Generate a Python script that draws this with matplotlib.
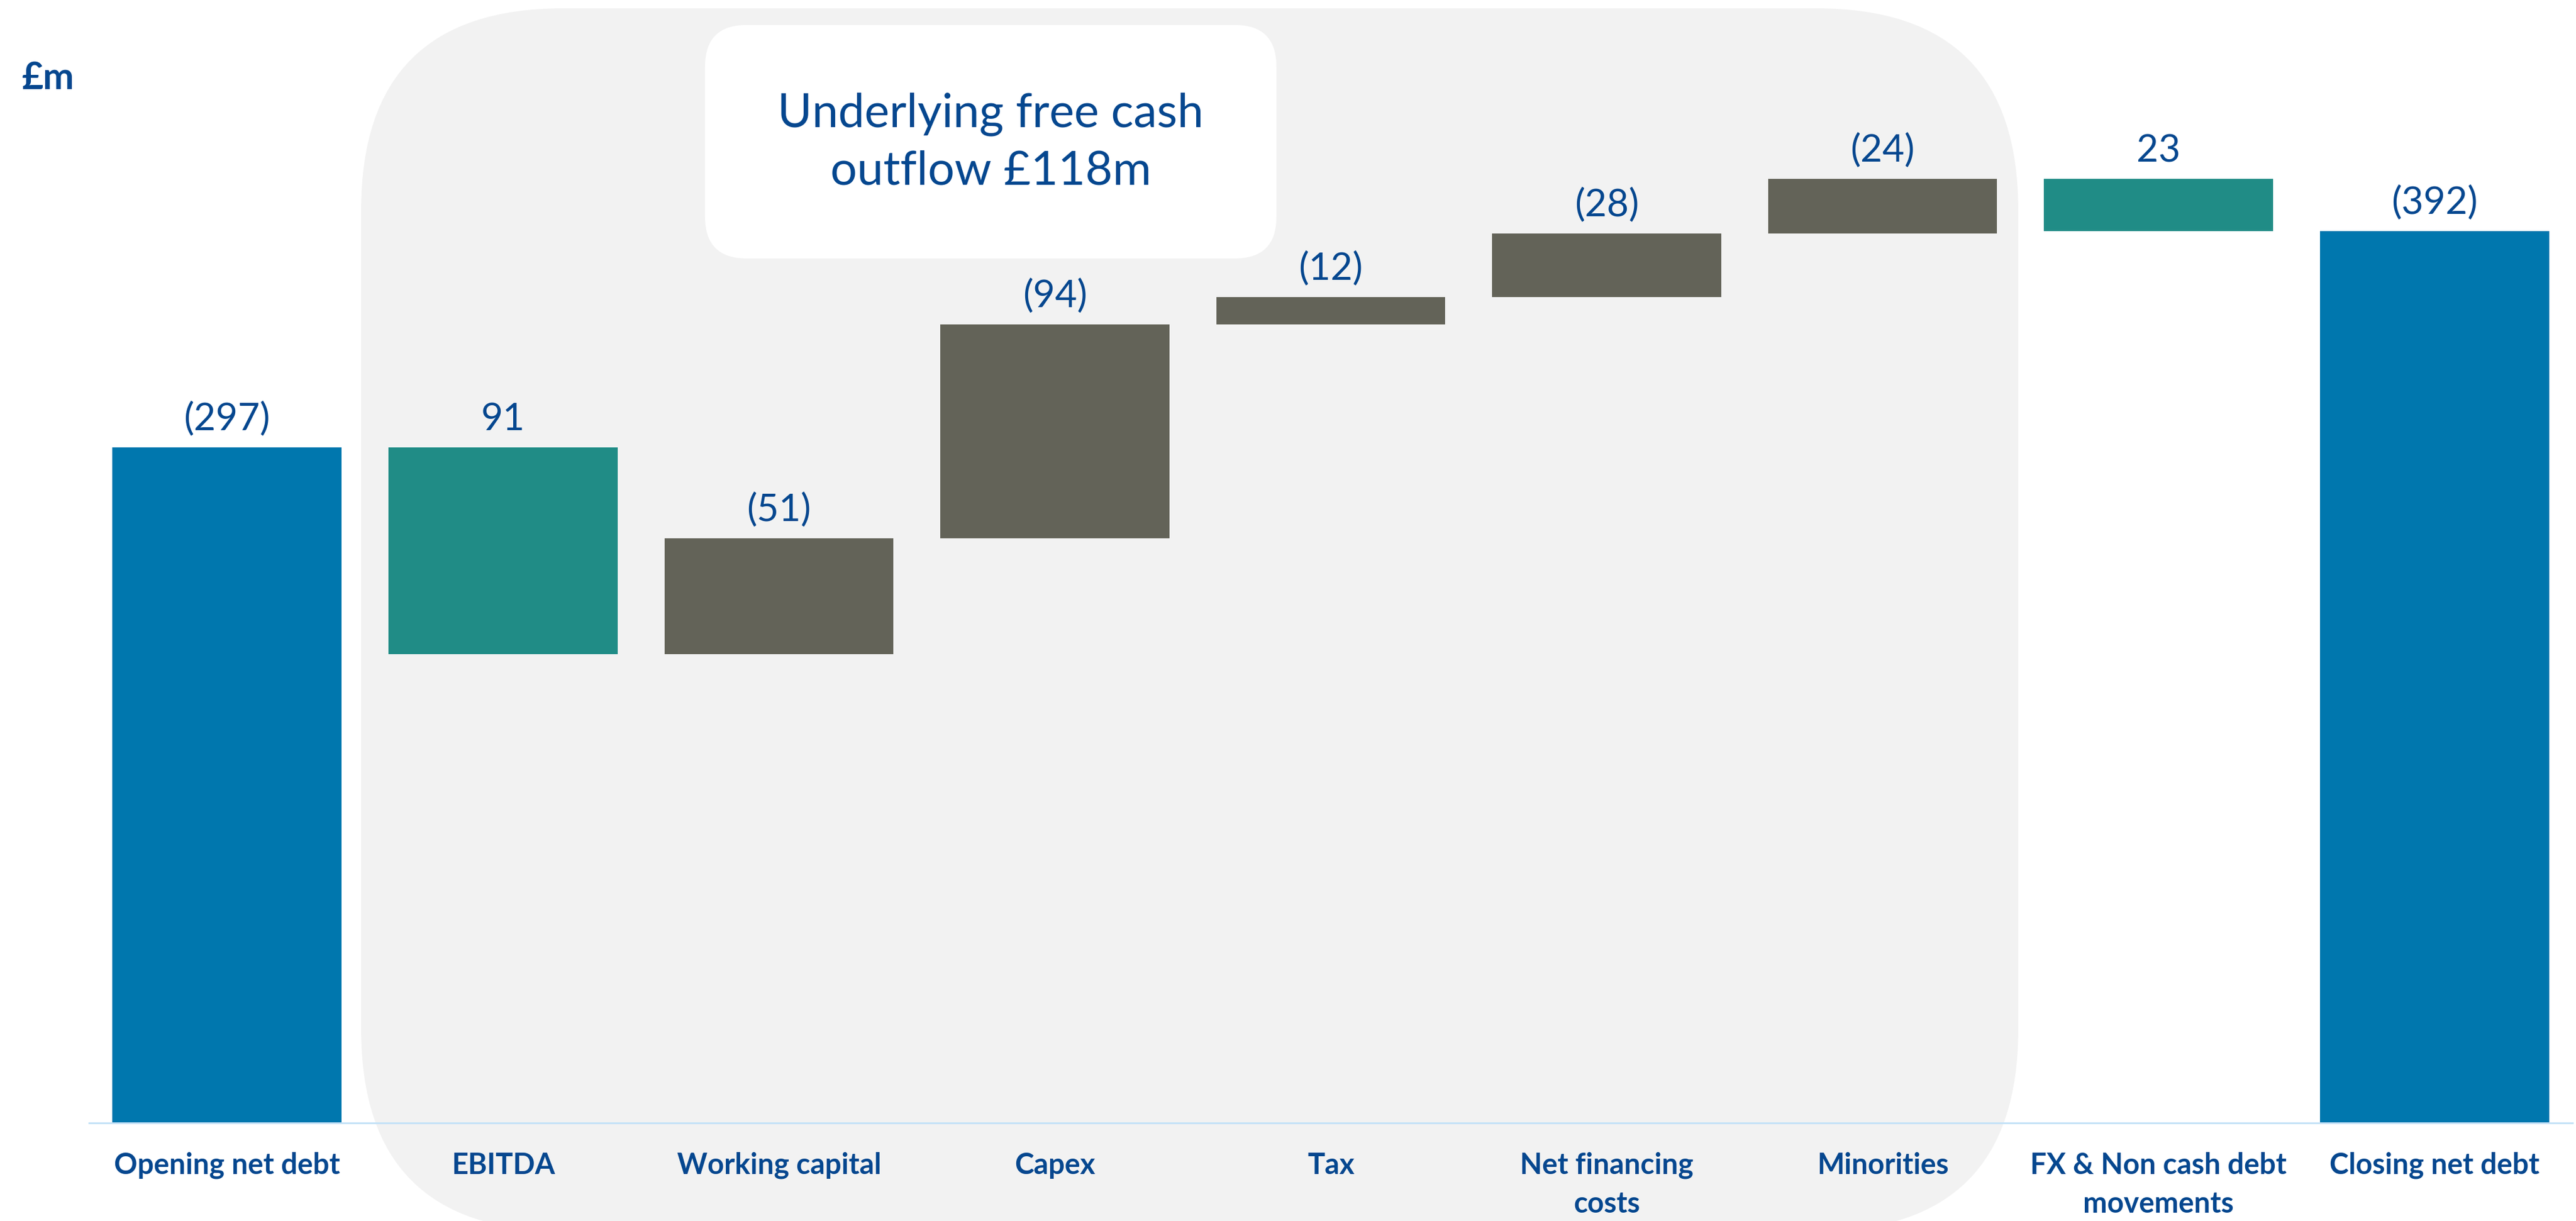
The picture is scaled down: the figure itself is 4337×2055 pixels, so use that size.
import matplotlib
matplotlib.use("Agg")
import matplotlib.pyplot as plt
from matplotlib.patches import FancyBboxPatch
import numpy as np

# ---- data ----
categories = ["Opening net debt", "EBITDA", "Working capital", "Capex", "Tax",
              "Net financing\ncosts", "Minorities", "FX & Non cash debt\nmovements",
              "Closing net debt"]
# change in net debt (positive = increase in debt); totals for first/last
amounts = [297, -91, 51, 94, 12, 28, 24, -23, 392]
kinds = ["total", "dec", "inc", "inc", "inc", "inc", "inc", "dec", "total"]
value_labels = ["(297)", "91", "(51)", "(94)", "(12)", "(28)", "(24)", "23", "(392)"]
box_text = "Underlying free cash\noutflow £118m"
unit_label = "£m"

# ---- style ----
W, H = 4337, 2055
FONT = "Lato"
TXT = "#05478F"
COL = {"total": "#0077AE", "dec": "#208C86", "inc": "#636358"}

fig = plt.figure(figsize=(W / 100, H / 100), dpi=100)
fig.patch.set_facecolor("white")

# background layer in pixel coordinates (y from top)
bg = fig.add_axes([0, 0, 1, 1], zorder=0)
bg.set_xlim(0, W)
bg.set_ylim(H, 0)
bg.axis("off")
bg.add_patch(FancyBboxPatch((608, 14), 3398 - 608, 2072 - 14,
                            boxstyle="round,pad=0,rounding_size=340",
                            facecolor="#F2F2F2", edgecolor="none"))
bg.add_patch(FancyBboxPatch((1187, 42), 2149 - 1187, 435 - 42,
                            boxstyle="round,pad=0,rounding_size=70",
                            facecolor="white", edgecolor="none", zorder=3))
bg.text(1668, 240, box_text, ha="center", va="center", fontsize=57,
        family=FONT, color=TXT, linespacing=1.42, zorder=4)
bg.text(37, 150, unit_label, ha="left", va="baseline", fontsize=45,
        family=FONT, fontweight="bold", color=TXT)

# main chart axes
left = 150 / W
right = 4331 / W
bottom = (H - 1890) / H
ymax = 440
top_px = 1890 - ymax * 3.828
ax = fig.add_axes([left, bottom, right - left, (1890 - top_px) / H], zorder=1)
ax.patch.set_alpha(0)

x = np.arange(len(categories))
bottoms, heights, tops = [], [], []
running = 0
for a, k in zip(amounts, kinds):
    if k == "total":
        b, h = 0, a
        running = a
    else:
        new = running + a
        b, h = min(running, new), abs(a)
        running = new
    bottoms.append(b)
    heights.append(h)
    tops.append(b + h)

ax.bar(x, heights, bottom=bottoms, width=0.83,
       color=[COL[k] for k in kinds], edgecolor="none")

for xi, t, lab in zip(x, tops, value_labels):
    ax.annotate(lab, (xi, t), xytext=(0, 34), textcoords="offset points",
                ha="center", va="center", fontsize=46, family=FONT, color=TXT)

ax.set_xlim(-0.5, 8.5)
ax.set_ylim(0, ymax)
ax.set_xticks(x)
ax.set_xticklabels(categories, fontsize=35, family=FONT, fontweight="bold",
                   color=TXT, linespacing=1.55, va="top")
ax.tick_params(axis="x", length=0, pad=35)
ax.set_yticks([])
for s in ["left", "right", "top"]:
    ax.spines[s].set_visible(False)
ax.spines["bottom"].set_color("#C5E2F7")
ax.spines["bottom"].set_linewidth(2.2)

fig.savefig("out.png", dpi=100)
